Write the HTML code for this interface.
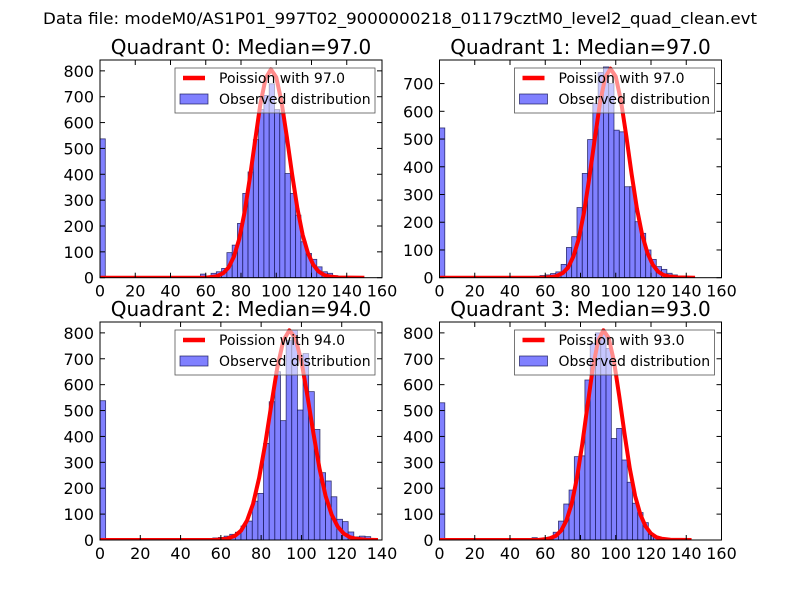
<!DOCTYPE html>
<html><head><meta charset="utf-8"><style>
html,body{margin:0;padding:0;background:#fff;}
svg text{font-family:"DejaVu Sans","Liberation Sans",sans-serif;}
</style></head><body>
<svg id="fig" width="800" height="600" viewBox="0 0 800 600" xmlns="http://www.w3.org/2000/svg">
<rect width="800" height="600" fill="#fff"/>
<text x="400" y="24" text-anchor="middle" font-size="16" textLength="714" lengthAdjust="spacingAndGlyphs">Data file: modeM0/AS1P01_997T02_9000000218_01179cztM0_level2_quad_clean.evt</text>
</svg>
<script>
// Quadrant 0
const q0BinStarts = [0,57,60,63,66,69,72,75,78,81,84,87,90,93,96,99,102,105,108,111,114,117,120,123,126,129,132,135];
const q0Counts    = [537,14,0,17,23,36,97,126,210,326,409,534,650,705,750,650,634,403,326,242,139,94,71,42,23,17,8,4];
const q0CurveX = [0,60,66,70,73,76,79,82,85,88,91,94,97,100,103,106,109,112,115,118,121,124,127,130,135,150];
const q0CurveY = [0,0,5,18,40,82,150,252,385,530,672,772,806,775,680,545,400,268,165,95,50,24,11,5,1,0];
// Quadrant 1
const q1BinStarts = [0,51,54,57,60,63,66,69,72,75,78,81,84,87,90,93,96,99,102,105,108,111,114,117,120,123,126,129,132,135,138];
const q1Counts    = [540,3,5,8,10,15,21,48,109,148,253,376,498,628,740,760,700,532,526,328,328,202,160,100,66,40,30,16,10,5,3];
const q1CurveX = [0,60,66,70,73,76,79,82,85,88,91,94,97,100,103,106,109,112,115,118,121,124,127,130,135,145];
const q1CurveY = [0,0,5,17,37,77,140,236,360,496,628,722,754,725,636,510,374,250,154,89,47,22,10,5,1,0];
// Quadrant 2
const q2BinStarts = [0,53.2,56,58.8,61.6,64.4,67.2,70,72.8,75.6,78.4,81.2,84,86.8,89.6,92.4,95.2,98,100.8,103.6,106.4,109.2,112,114.8,117.6,120.4,123.2,126,128.8,131.6];
const q2Counts    = [538,5,8,10,15,22,30,54,73,150,180,373,534,650,461,770,810,502,720,573,427,260,228,167,80,71,31,12,15,13];
const q2CurveX = [0,57,63,67,70,73,76,79,82,85,88,91,94,97,100,103,106,109,112,115,118,121,124,127,132,138];
const q2CurveY = [0,0,5,16,36,75,140,240,370,520,665,770,810,780,690,555,410,275,170,98,52,25,11,5,1,0];
// Quadrant 3
const q3BinStarts = [0,49.5,52.5,55.5,58.5,61.5,64.5,67.5,70.5,73.5,76.5,79.5,82.5,85.5,88.5,91.5,94.5,97.5,100.5,103.5,106.5,109.5,112.5,115.5,118.5,121.5,124.5];
const q3Counts    = [530,6,9,5,8,12,30,73,139,193,322,325,618,760,800,800,740,392,431,309,223,142,106,67,22,13,5];
const q3CurveX = [0,56,62,66,69,72,75,78,81,84,87,90,93,96,99,102,105,108,111,114,117,120,123,126,131,143];
const q3CurveY = [0,0,5,16,36,75,140,240,370,520,665,770,810,780,690,555,410,275,170,98,52,25,11,5,1,0];

const xTicks160 = [0,20,40,60,80,100,120,140,160];
const xTicks140 = [0,20,40,60,80,100,120,140];
const yTicks800 = [0,100,200,300,400,500,600,700,800];
const yTicks700 = [0,100,200,300,400,500,600,700];
const titles = ["Quadrant 0: Median=97.0","Quadrant 1: Median=97.0","Quadrant 2: Median=94.0","Quadrant 3: Median=93.0"];
const legendLabels = ["Poission with 97.0","Poission with 97.0","Poission with 94.0","Poission with 93.0"];

const NS = "http://www.w3.org/2000/svg";
const fig = document.getElementById('fig');
function mk(tag, attrs, parent){const e=document.createElementNS(NS,tag);for(const k in attrs)e.setAttribute(k,attrs[k]);(parent||fig).appendChild(e);return e;}

function panel(i, L, T, W, H, xmax, ymax, binW, starts, counts, cx, cy, xt, yt){
  const g = mk('g',{});
  
  
  const sx = v => L + v/xmax*W;
  const sy = v => T + H - v/ymax*H;
  const cp = mk('clipPath',{id:'c'+i},g);
  mk('rect',{x:L,y:T,width:W,height:H},cp);
  const plot = mk('g',{'clip-path':'url(#c'+i+')'},g);
  for(let k=0;k<starts.length;k++){
    const x0=sx(starts[k]), x1=sx(starts[k]+binW), y0=sy(counts[k]);
    const r = mk('rect',{x:x0,y:y0,width:x1-x0,height:sy(0)-y0,fill:'#8080ff',stroke:'#101050','stroke-opacity':'0.8','stroke-width':'0.8'},plot);
    
    
  }
  const pts = cx.map((x,k)=>sx(x).toFixed(2)+','+sy(cy[k]).toFixed(2)).join(' ');
  const pl = mk('polyline',{points:pts,fill:'none',stroke:'#ff0000','stroke-width':'4','stroke-linejoin':'round'},plot);
  
  
  mk('rect',{x:L,y:T,width:W,height:H,fill:'none',stroke:'#000','stroke-width':'1'},g);
  for(const v of xt){
    const x=sx(v);
    mk('line',{x1:x,y1:T+H,x2:x,y2:T+H-5,stroke:'#000'},g);
    mk('line',{x1:x,y1:T,x2:x,y2:T+5,stroke:'#000'},g);
    const t=mk('text',{x:x,y:T+H+19,'text-anchor':'middle','font-size':'16'},g);
    t.textContent=v;
    
    
  }
  for(const v of yt){
    const y=sy(v);
    mk('line',{x1:L,y1:y,x2:L+5,y2:y,stroke:'#000'},g);
    mk('line',{x1:L+W,y1:y,x2:L+W-5,y2:y,stroke:'#000'},g);
    const t=mk('text',{x:L-6,y:y+6,'text-anchor':'end','font-size':'16'},g);
    t.textContent=v;
    
    
  }
  const tt=mk('text',{x:L+W/2,y:T-6,'text-anchor':'middle','font-size':'20'},g);
  tt.textContent=titles[i];
  
  
  const lg=mk('g',{},g);
  
  
  const lx=L+75, ly=T+8;
  mk('rect',{x:lx,y:ly,width:200,height:45,fill:'#fff','fill-opacity':'0.55',stroke:'#555','stroke-width':'0.8'},lg);
  mk('line',{x1:lx+8,y1:ly+10,x2:lx+30,y2:ly+10,stroke:'#ff0000','stroke-width':'4.5'},lg);
  const t1=mk('text',{x:lx+44,y:ly+15,'font-size':'14'},lg);
  t1.textContent=legendLabels[i];
  
  
  mk('rect',{x:lx+5,y:ly+26,width:28,height:10,fill:'#8080ff',stroke:'#101050','stroke-opacity':'0.8','stroke-width':'0.8'},lg);
  const t2=mk('text',{x:lx+44,y:ly+36,'font-size':'14'},lg);
  t2.textContent="Observed distribution";
  
  
}
panel(0,100,60,282,217.7,160,842,3,q0BinStarts,q0Counts,q0CurveX,q0CurveY,xTicks160,yTicks800);
panel(1,439.5,60,282,217.7,160,785,3,q1BinStarts,q1Counts,q1CurveX,q1CurveY,xTicks160,yTicks700);
panel(2,100,322,282,218,140,842,2.8,q2BinStarts,q2Counts,q2CurveX,q2CurveY,xTicks140,yTicks800);
panel(3,439.5,322,282,218,160,842,3,q3BinStarts,q3Counts,q3CurveX,q3CurveY,xTicks160,yTicks800);
</script>
</body></html>
